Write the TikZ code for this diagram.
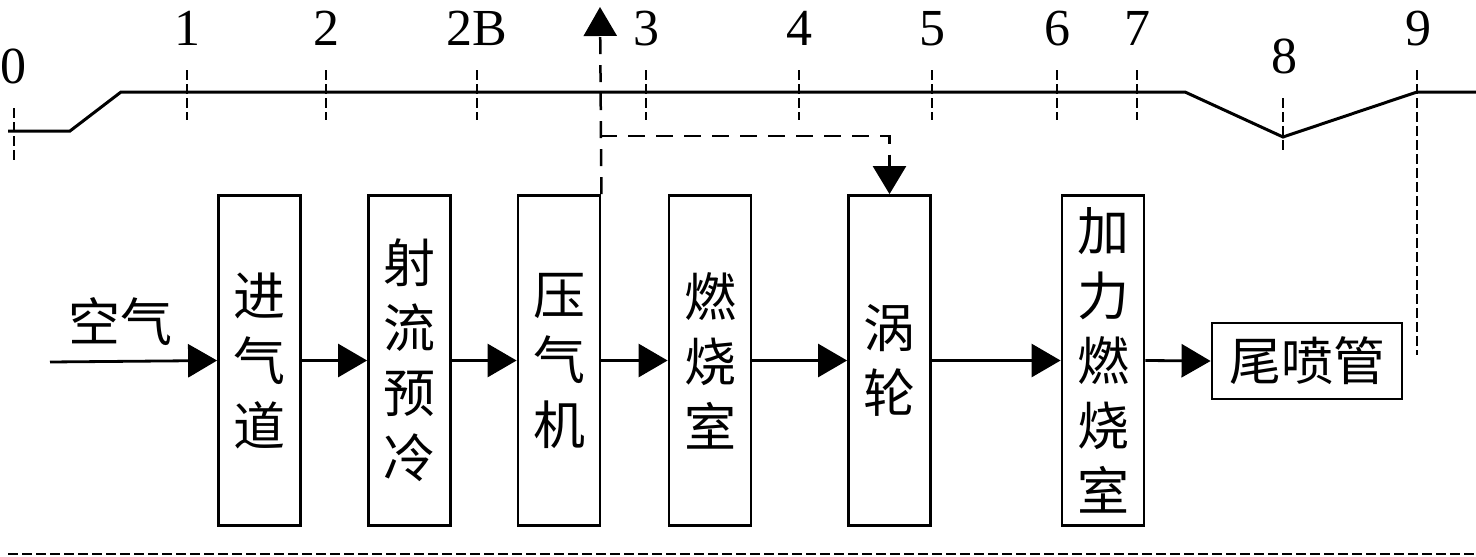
\documentclass[tikz,border=0pt]{standalone}
\usepackage{fontspec}
\setmainfont{Liberation Serif}
\newfontfamily\cjk{Noto Sans CJK SC}
\usetikzlibrary{arrows.meta}
\begin{document}
\begin{tikzpicture}[x=1pt,y=-1pt,
  every node/.style={inner sep=0pt},
  blk/.style={draw,line width=2.8pt,minimum width=82pt,minimum height=330pt,align=center,font=\cjk\fontsize{52}{65}\selectfont},
  flow/.style={line width=2.8pt,-{Triangle[length=29pt,width=33pt]}},
  lvl/.style={line width=3pt,line join=miter},
  tickln/.style={line width=2.5pt,dash pattern=on 10pt off 4pt},
  bleed/.style={line width=2.5pt,dash pattern=on 17pt off 11pt},
  num/.style={font=\fontsize{52}{60}\selectfont,anchor=base},
]
\useasboundingbox (0,0) rectangle (1476,557);

% station ticks and labels
\foreach \x/\t in {187/1,326/2,477/2B,646/3,799/4,932/5,1057/6,1137/7}{
  \draw[tickln] (\x,70) -- (\x,120);
  \node[num] (l\t) at (\x,45) {\t};
}
\draw[tickln] (14,108) -- (14,160);
\node[num] (l0) at (14,83) {0};
\draw[tickln] (1283,98) -- (1283,150);
\node[num] (l8) at (1284,73) {8};
\draw[tickln] (1417,70) -- (1417,355);
\node[num] (l9) at (1418,45) {9};

% level line
\draw[lvl] (8,131) -- (70,131) -- (121,92) -- (1185,92) -- (1283,137) -- (1417,92) -- (1476,92);

% blocks
\node[blk] (inlet) at (259.5,360.5) {进\\气\\道};
\node[blk] (jet)   at (409.5,360.5) {射\\流\\预\\冷};
\node[blk] (comp)  at (559,360.5)   {压\\气\\机};
\node[blk] (comb)  at (710,360.5)   {燃\\烧\\室};
\node[blk] (turb)  at (889.5,360.5) {涡\\轮};
\node[blk] (ab)    at (1103,360.5)  {加\\力\\燃\\烧\\室};
\node[draw,line width=2.8pt,minimum width=190pt,minimum height=76pt,font=\cjk\fontsize{52}{65}\selectfont] (noz) at (1307,361) {尾喷管};

% air input
\coordinate (air) at (50,362);
\node[font=\cjk\fontsize{52}{65}\selectfont] (airlbl) at (120,322) {空气};
\draw[flow] (air) -- (inlet.west);
\draw[flow] (inlet.east) -- (jet.west);
\draw[flow] (jet.east) -- (comp.west);
\draw[flow] (comp.east) -- (comb.west);
\draw[flow] (comb.east) -- (turb.west);
\draw[flow] (turb.east) -- (ab.west);
\draw[flow] (ab.east) -- (noz.west);

% bleed
\coordinate (bleedtop) at (600,7);
\coordinate (bleedsplit) at (600,136);
\coordinate (bleedturn) at (turb.north |- bleedsplit);
\draw[bleed,-{Triangle[length=29pt,width=33pt]}] (comp.north east) -- (bleedtop);
\draw[bleed,-{Triangle[length=28pt,width=33pt]}] (bleedsplit) -- (bleedturn) -- (turb.north);

% bottom dashed line
\coordinate (bl) at (8,554);
\coordinate (br) at (1476,554);
\draw[tickln] (bl) -- (br);
\end{tikzpicture}
\end{document}
